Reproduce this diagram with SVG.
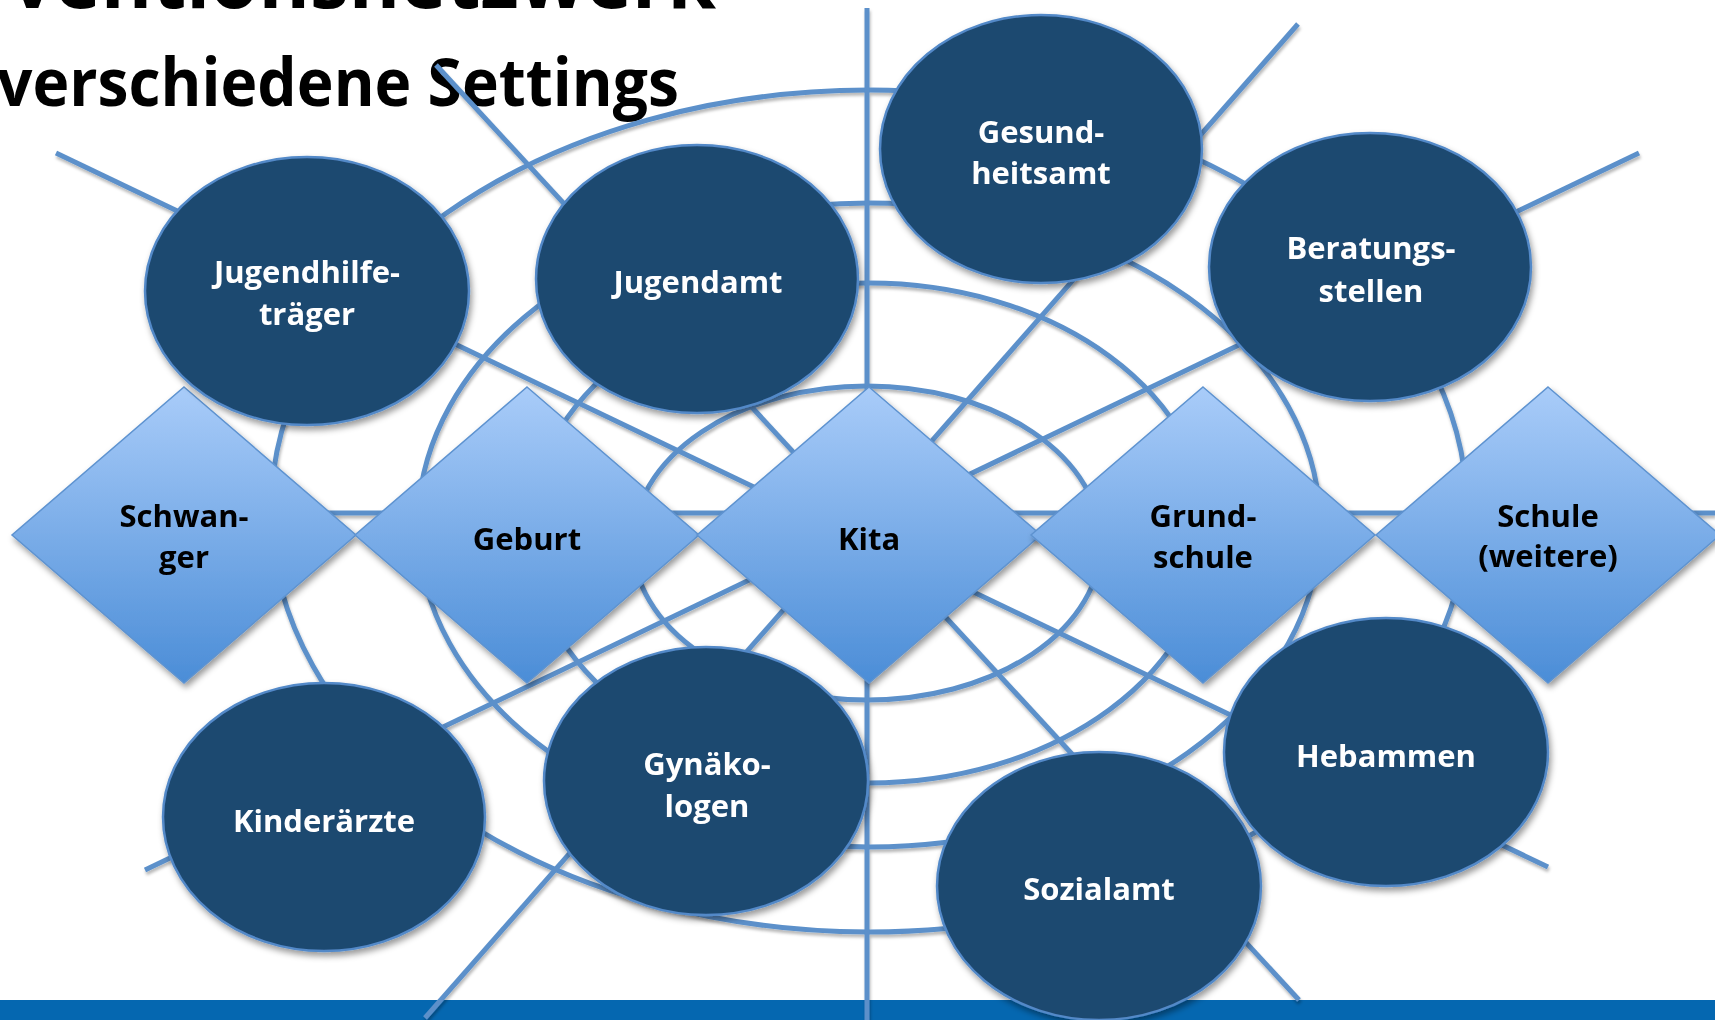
<svg xmlns="http://www.w3.org/2000/svg" width="1715" height="1020" viewBox="0 0 1715 1020">
  <defs>
    <linearGradient id="dg" x1="0" y1="0" x2="0" y2="1">
      <stop offset="0" stop-color="#a9ccf9"/>
      <stop offset="1" stop-color="#4b8dd7"/>
    </linearGradient>
    <filter id="nsh" x="-20%" y="-20%" width="140%" height="150%">
      <feDropShadow dx="2" dy="4" stdDeviation="3" flood-color="#000" flood-opacity="0.4"/>
    </filter>
    <filter id="lsh" x="-5%" y="-5%" width="110%" height="110%">
      <feDropShadow dx="1" dy="3" stdDeviation="1.5" flood-color="#000" flood-opacity="0.28"/>
    </filter>
    <style>
      .ln { stroke: #5b90ca; stroke-width: 5; fill: none; }
      .ring { stroke: #5b90ca; stroke-width: 5; fill: none; }
      .ell { fill: #1f4870; stroke: #5289c8; stroke-width: 2.5; }
      .dia { fill: url(#dg); stroke: #5e93d0; stroke-width: 1.5; }
      .wt { font-family: "Open Sans", "Liberation Sans", sans-serif; font-weight: 700; font-size: 31px; fill: #ffffff; text-anchor: middle; }
      .bt { font-family: "Open Sans", "Liberation Sans", sans-serif; font-weight: 700; font-size: 31px; fill: #000000; text-anchor: middle; }
      .title { font-family: "Open Sans", "Liberation Sans", sans-serif; font-weight: 700; fill: #000000; }
    </style>
  </defs>

  <rect width="1715" height="1020" fill="#ffffff"/>
  <rect id="bottom-bar" x="0" y="1000" width="1715" height="20" fill="#0567b0"/>

  <g id="title">
    <text class="title" x="10" y="8" font-size="80" textLength="706" lengthAdjust="spacingAndGlyphs">ventionsnetzwerk</text>
    <text class="title" x="-3" y="106" font-size="67" textLength="682" lengthAdjust="spacingAndGlyphs">verschiedene Settings</text>
  </g>

  <g id="connectors" filter="url(#lsh)">
    <ellipse class="ring" cx="869" cy="511" rx="598" ry="421"/>
    <ellipse class="ring" cx="869" cy="525" rx="451" ry="322"/>
    <ellipse class="ring" cx="869" cy="533" rx="340" ry="250"/>
    <ellipse class="ring" cx="867" cy="543" rx="234" ry="157"/>
    <line class="ln" x1="867" y1="8" x2="867" y2="1020"/>
    <line class="ln" x1="180" y1="513" x2="1715" y2="513"/>
    <line class="ln" x1="56" y1="153" x2="1548" y2="867"/>
    <line class="ln" x1="1639" y1="153" x2="145" y2="870"/>
    <line class="ln" x1="436" y1="65" x2="1299" y2="1000"/>
    <line class="ln" x1="1298" y1="24" x2="425" y2="1018"/>
  </g>

  <g id="node-schwanger" filter="url(#nsh)">
    <polygon class="dia" points="184,387 356,535 184,683 12,535"/>
    <text class="bt" x="184" y="527">Schwan-</text>
    <text class="bt" x="184" y="568">ger</text>
  </g>
  <g id="node-geburt" filter="url(#nsh)">
    <polygon class="dia" points="527,387 699,535 527,683 355,535"/>
    <text class="bt" x="527" y="550">Geburt</text>
  </g>
  <g id="node-kita" filter="url(#nsh)">
    <polygon class="dia" points="869,387 1041,535 869,683 697,535"/>
    <text class="bt" x="869" y="550">Kita</text>
  </g>
  <g id="node-grundschule" filter="url(#nsh)">
    <polygon class="dia" points="1203,387 1375,535 1203,683 1031,535"/>
    <text class="bt" x="1203" y="527">Grund-</text>
    <text class="bt" x="1203" y="568">schule</text>
  </g>
  <g id="node-schule" filter="url(#nsh)">
    <polygon class="dia" points="1548,387 1720,535 1548,683 1376,535"/>
    <text class="bt" x="1548" y="527">Schule</text>
    <text class="bt" x="1548" y="567">(weitere)</text>
  </g>

  <g id="node-jugendhilfetraeger" filter="url(#nsh)">
    <ellipse class="ell" cx="307" cy="291" rx="162" ry="134"/>
    <text class="wt" x="307" y="283">Jugendhilfe-</text>
    <text class="wt" x="307" y="325">träger</text>
  </g>
  <g id="node-jugendamt" filter="url(#nsh)">
    <ellipse class="ell" cx="697" cy="279" rx="161" ry="134"/>
    <text class="wt" x="698" y="293">Jugendamt</text>
  </g>
  <g id="node-gesundheitsamt" filter="url(#nsh)">
    <ellipse class="ell" cx="1041" cy="149" rx="161" ry="134"/>
    <text class="wt" x="1041" y="143">Gesund-</text>
    <text class="wt" x="1041" y="184">heitsamt</text>
  </g>
  <g id="node-beratungsstellen" filter="url(#nsh)">
    <ellipse class="ell" cx="1370" cy="267" rx="161" ry="134"/>
    <text class="wt" x="1371" y="259">Beratungs-</text>
    <text class="wt" x="1371" y="302">stellen</text>
  </g>
  <g id="node-kinderaerzte" filter="url(#nsh)">
    <ellipse class="ell" cx="324" cy="817" rx="161" ry="134"/>
    <text class="wt" x="324" y="832">Kinderärzte</text>
  </g>
  <g id="node-gynaekologen" filter="url(#nsh)">
    <ellipse class="ell" cx="706" cy="781" rx="162" ry="134"/>
    <text class="wt" x="707" y="775">Gynäko-</text>
    <text class="wt" x="707" y="817">logen</text>
  </g>
  <g id="node-sozialamt" filter="url(#nsh)">
    <ellipse class="ell" cx="1099" cy="886" rx="162" ry="134"/>
    <text class="wt" x="1099" y="900">Sozialamt</text>
  </g>
  <g id="node-hebammen" filter="url(#nsh)">
    <ellipse class="ell" cx="1386" cy="752" rx="162" ry="134"/>
    <text class="wt" x="1386" y="767">Hebammen</text>
  </g>
</svg>
